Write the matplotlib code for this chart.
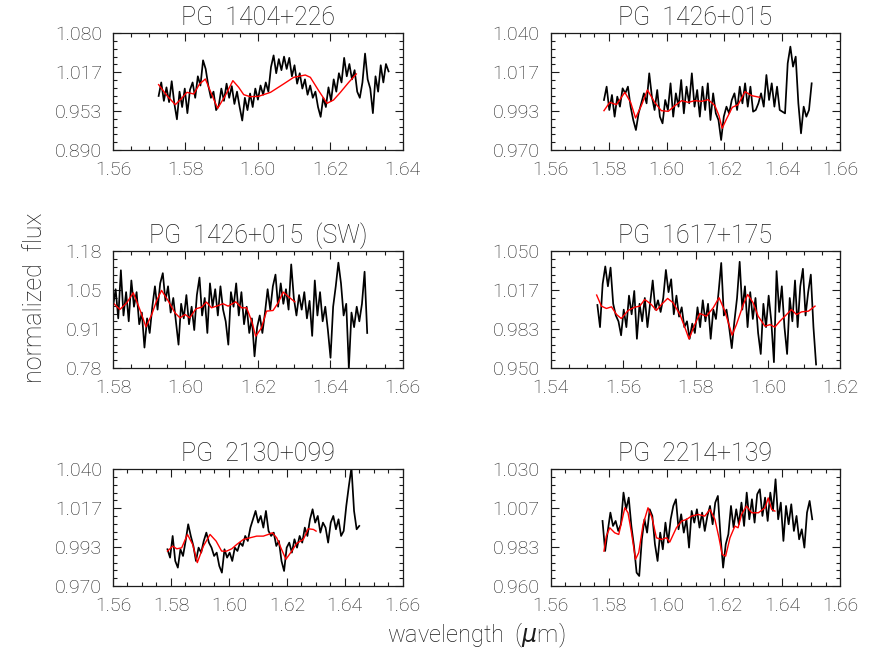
#!/usr/bin/env python3
"""H-band spectra of six PG quasar hosts with template fits (red)."""
import matplotlib
matplotlib.use("Agg")
import matplotlib.pyplot as plt
from matplotlib.ticker import AutoMinorLocator
import numpy as np

TXT = "#1c1c1c"
FONT = ["Roboto", "DejaVu Sans"]

# ---------------- PG 1404+226 ----------------
P1_RANGE = (1.5726, 1.6361)
P1_FLUX = [0.978, 1.000, 0.970, 0.992, 0.968, 1.002, 0.966, 0.940, 0.985, 0.960,
           0.990, 0.950, 0.988, 1.000, 0.975, 1.010, 0.995, 1.036, 1.022, 0.995,
           0.975, 0.985, 0.955, 0.962, 0.990, 0.970, 0.998, 0.975, 0.994, 0.965,
           0.985, 0.960, 0.938, 0.975, 0.955, 0.982, 0.960, 0.990, 0.972, 0.995,
           0.980, 1.000, 0.985, 1.025, 1.044, 1.015, 1.038, 1.020, 1.042, 1.022,
           1.040, 1.010, 1.028, 0.998, 1.015, 0.990, 1.005, 0.980, 0.995, 0.975,
           0.985, 0.960, 0.944, 0.975, 0.960, 0.992, 0.970, 1.005, 0.985, 1.015,
           1.000, 1.040, 1.010, 1.030, 1.005, 1.020, 0.985, 0.975, 1.000, 1.047,
           1.005, 0.990, 0.950, 1.010, 0.985, 1.028, 1.000, 1.030, 1.018]
P1_MODEL_WAVE = [1.5726, 1.5749, 1.5772, 1.5788, 1.5804, 1.5823, 1.5839, 1.5855, 1.5872,
                 1.5889, 1.5910, 1.5931, 1.5947, 1.5961, 1.5979, 1.6002, 1.6035, 1.6071,
                 1.6099, 1.6131, 1.6145, 1.6168, 1.6191, 1.6209, 1.6228, 1.6251, 1.6272]
P1_MODEL_FLUX = [0.9964, 0.9785, 0.9638, 0.9731, 0.9839, 0.9812, 0.9975, 1.0056, 0.9812,
                 0.9578, 0.9785, 1.0029, 0.9921, 0.9801, 0.9768, 0.9774, 0.9839, 0.9975,
                 1.0083, 1.0121, 1.0083, 0.9866, 0.9660, 0.9714, 0.9839, 1.0002, 1.0138]

# ---------------- PG 1426+015 ----------------
P2_RANGE = (1.5784, 1.6501)
P2_FLUX = [1.000, 1.008, 0.994, 1.003, 0.990, 1.002, 0.996, 1.007, 1.004, 1.008,
           0.996, 0.988, 0.982, 0.992, 0.998, 1.004, 0.998, 1.016, 1.002, 0.994,
           1.006, 0.990, 0.986, 1.000, 0.994, 1.010, 0.990, 1.004, 0.996, 1.012,
           0.992, 1.008, 0.998, 1.016, 0.996, 1.006, 0.990, 1.008, 0.994, 1.010,
           0.988, 1.004, 0.992, 0.988, 0.976, 0.990, 0.996, 0.992, 1.000, 1.004,
           0.994, 1.008, 0.998, 1.010, 0.996, 1.008, 0.993, 0.994, 0.998, 1.004,
           0.996, 1.015, 1.000, 1.010, 0.996, 1.008, 0.994, 0.993, 0.992, 1.022,
           1.032, 1.020, 1.026, 0.998, 0.980, 0.996, 0.990, 0.994, 1.010]
P2_MODEL_WAVE = [1.5784, 1.5804, 1.5827, 1.5856, 1.5876, 1.5893, 1.5913, 1.5934, 1.5959,
                 1.5982, 1.6006, 1.6029, 1.6052, 1.6075, 1.6098, 1.6121, 1.6144, 1.6167,
                 1.6181, 1.6192, 1.6207, 1.6227, 1.6247, 1.6271, 1.6294, 1.6322]
P2_MODEL_FLUX = [0.9936, 0.9986, 0.9972, 1.0046, 0.9986, 0.9892, 0.9966, 1.0060, 0.9986,
                 0.9936, 0.9932, 0.9966, 0.9996, 0.9986, 0.9996, 0.9992, 1.0002, 0.9966,
                 0.9906, 0.9830, 0.9886, 0.9956, 0.9972, 1.0050, 1.0026, 1.0016]

# ---------------- PG 1426+015 (SW) ----------------
P3_RANGE = (1.5800, 1.6502)
P3_FLUX = [0.990, 1.050, 0.950, 1.115, 0.960, 1.040, 0.940, 1.080, 0.990, 1.040,
           0.930, 0.970, 0.850, 0.950, 0.900, 0.990, 1.060, 0.980, 1.070, 1.105,
           1.010, 1.060, 0.970, 1.020, 0.940, 0.860, 1.000, 0.950, 1.030, 0.930,
           0.990, 0.910, 1.030, 1.090, 0.960, 1.020, 0.900, 1.070, 0.990, 1.050,
           0.960, 1.060, 0.980, 0.940, 0.860, 1.040, 0.990, 1.070, 0.960, 1.040,
           0.930, 0.990, 0.900, 0.950, 0.820, 0.920, 0.960, 0.900, 0.970, 1.050,
           0.980, 1.060, 1.100, 0.990, 1.070, 1.000, 1.050, 0.980, 1.135, 1.020,
           0.960, 1.030, 0.980, 1.040, 0.950, 1.010, 0.890, 1.080, 0.960, 1.040,
           0.940, 0.990, 0.910, 0.815, 0.990, 1.060, 1.141, 1.070, 0.960, 1.000,
           0.780, 0.970, 0.920, 0.990, 0.940, 1.000, 1.110, 0.900]
P3_MODEL_WAVE = [1.5800, 1.5819, 1.5838, 1.5856, 1.5874, 1.5891, 1.5907, 1.5920, 1.5934,
                 1.5953, 1.5971, 1.5985, 1.5999, 1.6012, 1.6029, 1.6045, 1.6058, 1.6072,
                 1.6086, 1.6104, 1.6118, 1.6139, 1.6155, 1.6169, 1.6183, 1.6194, 1.6210,
                 1.6224, 1.6242, 1.6256, 1.6270, 1.6288, 1.6302]
P3_MODEL_FLUX = [1.0035, 0.9806, 1.0035, 1.0379, 0.9806, 0.9210, 0.9634, 1.0092, 1.0459,
                 1.0092, 0.9691, 0.9519, 0.9634, 0.9519, 0.9829, 0.9886, 1.0058, 0.9863,
                 0.9920, 1.0001, 0.9920, 1.0069, 0.9863, 0.9863, 0.9405, 0.8889, 0.9175,
                 0.9749, 0.9771, 1.0035, 1.0402, 1.0207, 1.0069]

# ---------------- PG 1617+175 ----------------
P4_RANGE = (1.5529, 1.6133)
P4_FLUX = [1.004, 0.985, 1.022, 1.037, 1.020, 1.036, 1.005, 0.995, 0.990, 0.978,
           1.000, 0.985, 1.012, 0.996, 1.016, 0.975, 1.005, 0.990, 1.010, 0.985,
           1.005, 1.025, 1.000, 1.008, 0.998, 1.010, 1.034, 1.015, 1.026, 0.996,
           1.012, 0.994, 1.002, 0.985, 0.990, 0.975, 0.988, 0.980, 1.002, 0.985,
           1.008, 0.990, 1.005, 0.975, 1.000, 0.992, 1.015, 1.040, 0.995, 1.000,
           0.985, 0.967, 0.990, 1.010, 1.041, 1.000, 1.020, 0.985, 1.015, 0.992,
           1.010, 0.980, 0.962, 1.005, 0.985, 1.012, 0.990, 0.955, 1.033, 0.998,
           1.020, 0.985, 0.962, 1.010, 0.990, 1.025, 0.985, 1.020, 1.035, 0.995,
           1.015, 1.030, 0.985, 0.953]
P4_MODEL_WAVE = [1.5527, 1.5540, 1.5554, 1.5568, 1.5582, 1.5595, 1.5614, 1.5632, 1.5646,
                 1.5660, 1.5678, 1.5692, 1.5706, 1.5723, 1.5738, 1.5757, 1.5771, 1.5782,
                 1.5798, 1.5812, 1.5830, 1.5849, 1.5865, 1.5881, 1.5895, 1.5901, 1.5913,
                 1.5932, 1.5944, 1.5959, 1.5973, 1.5992, 1.6006, 1.6019, 1.6033, 1.6047,
                 1.6065, 1.6079, 1.6093, 1.6112, 1.6130]
P4_MODEL_FLUX = [1.0125, 1.0030, 1.0010, 1.0024, 0.9958, 0.9924, 0.9993, 1.0021, 1.0030,
                 1.0087, 1.0044, 0.9993, 1.0044, 1.0096, 1.0059, 0.9958, 0.9844, 0.9749,
                 0.9872, 0.9967, 0.9944, 1.0016, 1.0102, 0.9987, 0.9844, 0.9781, 0.9872,
                 1.0044, 1.0130, 1.0059, 0.9944, 0.9858, 0.9872, 0.9850, 0.9901, 0.9944,
                 1.0001, 0.9958, 0.9981, 0.9987, 1.0030]

# ---------------- PG 2130+099 ----------------
P5_RANGE = (1.5788, 1.6450)
P5_FLUX = [0.992, 0.987, 1.000, 0.985, 0.981, 0.992, 0.988, 0.997, 1.007, 1.000,
           0.994, 0.985, 0.993, 0.990, 0.997, 1.002, 0.996, 0.993, 0.988, 0.990,
           0.982, 0.978, 0.992, 0.987, 0.990, 0.985, 0.993, 0.991, 0.996, 0.994,
           1.000, 0.997, 1.005, 1.010, 1.015, 1.008, 1.012, 1.005, 1.015, 1.003,
           1.000, 1.002, 0.994, 0.997, 0.985, 0.979, 0.993, 0.996, 0.990, 0.998,
           0.993, 1.000, 0.996, 1.005, 1.000, 1.010, 1.016, 1.008, 1.012, 1.002,
           1.008, 1.005, 0.996, 1.008, 1.012, 1.004, 1.010, 1.000, 1.003, 1.018,
           1.030, 1.041, 1.015, 1.004, 1.006]
P5_MODEL_WAVE = [1.5788, 1.5806, 1.5820, 1.5837, 1.5857, 1.5875, 1.5891, 1.5912, 1.5935,
                 1.5956, 1.5975, 1.5992, 1.6010, 1.6027, 1.6050, 1.6073, 1.6096, 1.6119,
                 1.6136, 1.6150, 1.6165, 1.6182, 1.6197, 1.6217, 1.6234, 1.6257, 1.6274,
                 1.6292, 1.6301]
P5_MODEL_FLUX = [0.9909, 0.9939, 0.9923, 0.9929, 1.0009, 0.9949, 0.9840, 0.9939, 1.0009,
                 0.9969, 0.9909, 0.9909, 0.9923, 0.9949, 0.9979, 0.9989, 0.9999, 0.9999,
                 1.0009, 1.0019, 0.9989, 0.9919, 0.9860, 0.9909, 0.9955, 0.9979, 1.0043,
                 1.0039, 1.0029]

# ---------------- PG 2214+139 ----------------
P6_RANGE = (1.5779, 1.6503)
P6_FLUX = [0.999, 0.981, 0.993, 1.004, 0.996, 0.999, 0.993, 0.997, 1.016, 1.006,
           1.013, 0.996, 0.984, 0.968, 0.966, 0.988, 1.000, 0.992, 1.006, 1.002,
           0.985, 0.975, 0.992, 0.982, 0.998, 0.986, 1.000, 1.008, 1.012, 0.994,
           1.003, 0.992, 1.000, 0.983, 1.005, 0.998, 1.006, 0.995, 1.004, 0.993,
           1.002, 1.008, 0.997, 1.010, 1.014, 0.990, 0.971, 0.985, 0.991, 1.008,
           0.995, 1.006, 0.997, 1.010, 0.996, 1.016, 1.000, 1.012, 0.998, 1.015,
           1.018, 1.002, 1.013, 0.999, 1.016, 1.005, 1.024, 1.000, 1.010, 0.987,
           1.008, 0.997, 1.009, 0.993, 1.002, 0.988, 0.994, 0.983, 1.004, 1.011,
           1.000]
P6_MODEL_WAVE = [1.5784, 1.5792, 1.5804, 1.5821, 1.5835, 1.5847, 1.5856, 1.5867, 1.5879,
                 1.5893, 1.5904, 1.5919, 1.5936, 1.5950, 1.5965, 1.5982, 1.6000, 1.6011,
                 1.6034, 1.6052, 1.6069, 1.6086, 1.6109, 1.6132, 1.6150, 1.6167, 1.6181,
                 1.6192, 1.6204, 1.6219, 1.6236, 1.6247, 1.6259, 1.6276, 1.6294, 1.6317,
                 1.6340, 1.6351, 1.6363, 1.6374]
P6_MODEL_FLUX = [0.9809, 0.9899, 0.9949, 0.9919, 0.9909, 0.9999, 1.0069, 1.0039, 0.9919,
                 0.9760, 0.9800, 0.9969, 1.0069, 1.0009, 0.9889, 0.9879, 0.9889, 0.9863,
                 0.9949, 0.9989, 0.9999, 1.0019, 1.0029, 1.0019, 1.0059, 0.9999, 0.9889,
                 0.9789, 0.9779, 0.9889, 0.9959, 0.9949, 1.0029, 1.0079, 1.0039, 1.0039,
                 1.0069, 1.0128, 1.0059, 1.0049]

TITLES = ["PG  1404+226", "PG  1426+015", "PG  1426+015  (SW)",
          "PG  1617+175", "PG  2130+099", "PG  2214+139"]
XLIMS = [(1.56, 1.64), (1.56, 1.66), (1.58, 1.66), (1.54, 1.62), (1.56, 1.66), (1.56, 1.66)]
YLIMS = [(0.890, 1.080), (0.970, 1.040), (0.78, 1.18), (0.950, 1.050), (0.970, 1.040), (0.960, 1.030)]
YTICKLABELS = [["0.890", "0.953", "1.017", "1.080"],
               ["0.970", "0.993", "1.017", "1.040"],
               ["0.78", "0.91", "1.05", "1.18"],
               ["0.950", "0.983", "1.017", "1.050"],
               ["0.970", "0.993", "1.017", "1.040"],
               ["0.960", "0.983", "1.007", "1.030"]]

SPECTRA = [(P1_RANGE, P1_FLUX, P1_MODEL_WAVE, P1_MODEL_FLUX),
           (P2_RANGE, P2_FLUX, P2_MODEL_WAVE, P2_MODEL_FLUX),
           (P3_RANGE, P3_FLUX, P3_MODEL_WAVE, P3_MODEL_FLUX),
           (P4_RANGE, P4_FLUX, P4_MODEL_WAVE, P4_MODEL_FLUX),
           (P5_RANGE, P5_FLUX, P5_MODEL_WAVE, P5_MODEL_FLUX),
           (P6_RANGE, P6_FLUX, P6_MODEL_WAVE, P6_MODEL_FLUX)]

# axes boxes in figure fractions
LEFTS = [0.1296, 0.6315]
BOTTOMS = [0.7706, 0.4373, 0.1040]
W, H = 0.3322, 0.1785

plt.rcParams["font.family"] = FONT
plt.rcParams["font.weight"] = "light"
plt.rcParams["axes.titleweight"] = "light"
plt.rcParams["mathtext.fontset"] = "dejavusans"

fig = plt.figure(figsize=(8.72, 6.54), dpi=100)
fig.patch.set_facecolor("white")

for i, (title, xl, yl, ylab, spec) in enumerate(zip(TITLES, XLIMS, YLIMS, YTICKLABELS, SPECTRA)):
    (w0, w1), flux, mw, mf = spec
    ax = fig.add_axes([LEFTS[i % 2], BOTTOMS[i // 2], W, H])
    wave = np.linspace(w0, w1, len(flux))
    ax.plot(wave, flux, color="black", lw=1.25)
    ax.plot(mw, mf, color="#ff0000", lw=1.0)

    xt = np.arange(xl[0], xl[1] + 0.001, 0.02)
    ax.set_xlim(*xl)
    ax.set_ylim(*yl)
    ax.set_xticks(xt)
    ax.set_xticklabels([f"{v:.2f}" for v in xt])
    ax.set_yticks(np.linspace(yl[0], yl[1], 4))
    ax.set_yticklabels(ylab)
    ax.xaxis.set_minor_locator(AutoMinorLocator(4))
    ax.yaxis.set_minor_locator(AutoMinorLocator(5))
    ax.tick_params(which="both", direction="in", top=True, right=True,
                   colors=TXT, labelsize=14, width=0.8)
    ax.tick_params(which="major", length=6, pad=8)
    ax.tick_params(which="minor", length=3)
    for sp in ax.spines.values():
        sp.set_color(TXT)
        sp.set_linewidth(0.9)
    ax.set_title(title, fontsize=18, color=TXT, pad=6)

fig.text(0.040, 0.545, "normalized  flux", rotation=90, ha="center", va="center",
         fontsize=18, color=TXT)
fig.text(0.546, 0.028, r"wavelength  ($\mu$m)", ha="center", va="center",
         fontsize=17, color=TXT)

fig.savefig("out.png", dpi=100, facecolor="white")
